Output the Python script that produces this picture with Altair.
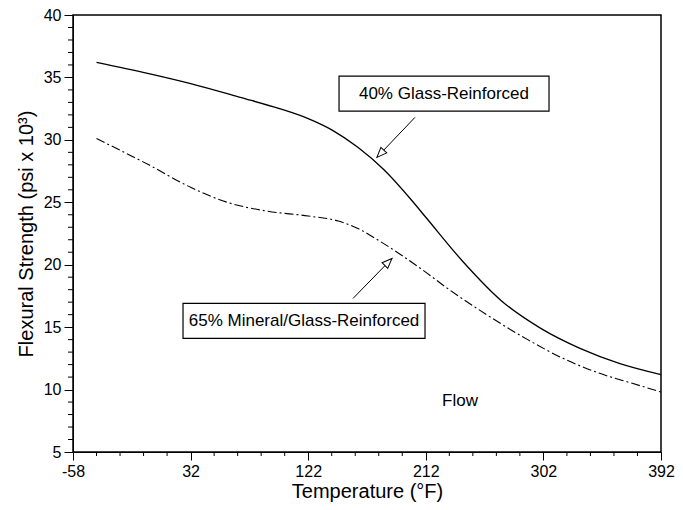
import altair as alt
import pandas as pd

# ---- data ----
glass_temp = [-40, 0, 32, 70, 100, 122, 140, 160, 180, 200, 212, 240, 270, 300, 330, 360, 392]
glass_val = [36.2, 35.3, 34.5, 33.4, 32.5, 31.7, 30.8, 29.4, 27.6, 25.3, 23.8, 20.3, 17.1, 14.9, 13.3, 12.1, 11.2]

mineral_temp = [-40, 0, 32, 60, 90, 122, 145, 160, 175, 190, 208, 230, 260, 290, 317, 345, 370, 392]
mineral_val = [30.1, 28.0, 26.2, 25.0, 24.3, 23.9, 23.5, 22.9, 22.0, 21.0, 19.7, 18.0, 15.9, 14.0, 12.5, 11.3, 10.5, 9.8]

x_major = [-58, 32, 122, 212, 302, 392]
y_major = [5, 10, 15, 20, 25, 30, 35, 40]
x_minor = [v for v in range(-58, 393, 18) if v not in x_major]
y_minor = [v for v in range(5, 41) if v % 5 != 0]

box_label = ["40% Glass-Reinforced", "65% Mineral/Glass-Reinforced"]
box_x1 = [145.6, 26.2]
box_x2 = [306.3, 211.4]
box_y1 = [35.1, 16.9]
box_y2 = [32.3, 14.1]
box_tx = [225.9, 118.8]
box_ty = [33.7, 15.5]

arrow_x1 = [203.7, 156.3]
arrow_y1 = [31.8, 17.3]
arrow_x2 = [174.6, 186.1]
arrow_y2 = [28.6, 20.5]
arrow_angle = [223.5, 45]

flow_label = ["Flow"]
flow_x = [238.2]
flow_y = [9.1]

FONT = "Liberation Sans"
W, H = 588, 437

xs = alt.Scale(domain=[-58, 392], nice=False, zero=False)
ys = alt.Scale(domain=[5, 40], nice=False, zero=False)

curves = pd.DataFrame({"t": glass_temp, "v": glass_val})
curves2 = pd.DataFrame({"t": mineral_temp, "v": mineral_val})

x_axis = alt.Axis(values=x_major, title="Temperature (°F)", tickSize=8, labelFontSize=16,
                  titleFontSize=20, titleFontWeight="normal", labelFont=FONT, titleFont=FONT,
                  grid=False, domainColor="black", tickColor="black", labelColor="black",
                  titleColor="black", labelPadding=3, titlePadding=2, labelFlush=False,
                  labelExpr="'' + datum.value")
y_axis = alt.Axis(values=y_major, title="Flexural Strength (psi x 10³)", tickSize=9, labelFontSize=16,
                  titleFontSize=20, titleFontWeight="normal", labelFont=FONT, titleFont=FONT,
                  grid=False, domainColor="black", tickColor="black", labelColor="black",
                  titleColor="black", labelPadding=3, titlePadding=7, labelFlush=False,
                  labelExpr="'' + datum.value")

glass = alt.Chart(curves).mark_line(color="black", strokeWidth=1.3, interpolate="monotone").encode(
    x=alt.X("t:Q", scale=xs, axis=x_axis),
    y=alt.Y("v:Q", scale=ys, axis=y_axis),
)
mineral = alt.Chart(curves2).mark_line(color="black", strokeWidth=1.1, interpolate="monotone",
                                       strokeDash=[9, 3, 2, 3]).encode(
    x=alt.X("t:Q", scale=xs),
    y=alt.Y("v:Q", scale=ys),
)

xminor = alt.Chart(pd.DataFrame({"t": x_minor})).mark_rule(color="black", strokeWidth=1).encode(
    x=alt.X("t:Q", scale=xs), y=alt.value(H), y2=alt.value(H + 4)
)
yminor = alt.Chart(pd.DataFrame({"v": y_minor})).mark_rule(color="black", strokeWidth=1).encode(
    y=alt.Y("v:Q", scale=ys), x=alt.value(0), x2=alt.value(-5)
)

boxes_df = pd.DataFrame({"label": box_label, "x1": box_x1, "x2": box_x2, "y1": box_y1,
                         "y2": box_y2, "tx": box_tx, "ty": box_ty})
boxes = alt.Chart(boxes_df).mark_rect(fill="white", stroke="black", strokeWidth=1.2).encode(
    x=alt.X("x1:Q", scale=xs), x2="x2:Q", y=alt.Y("y1:Q", scale=ys), y2="y2:Q"
)
box_text = alt.Chart(boxes_df).mark_text(font=FONT, fontSize=17, color="black",
                                         align="center", baseline="middle").encode(
    x=alt.X("tx:Q", scale=xs), y=alt.Y("ty:Q", scale=ys), text="label:N"
)

arrows_df = pd.DataFrame({"x1": arrow_x1, "y1": arrow_y1, "x2": arrow_x2, "y2": arrow_y2,
                          "a": arrow_angle})
arrow_lines = alt.Chart(arrows_df).mark_rule(color="black", strokeWidth=1).encode(
    x=alt.X("x1:Q", scale=xs), y=alt.Y("y1:Q", scale=ys), x2="x2:Q", y2="y2:Q"
)
arrow_heads = alt.Chart(arrows_df).mark_point(
    shape="M0,0 L-0.4,1 L0.4,1 Z", size=400, filled=True, fill="white",
    stroke="black", strokeWidth=1, opacity=1
).encode(
    x=alt.X("x2:Q", scale=xs), y=alt.Y("y2:Q", scale=ys), angle=alt.Angle("a:Q", scale=None)
)

flow = alt.Chart(pd.DataFrame({"label": flow_label, "x": flow_x, "y": flow_y})).mark_text(
    font=FONT, fontSize=17, color="black", align="center", baseline="middle"
).encode(x=alt.X("x:Q", scale=xs), y=alt.Y("y:Q", scale=ys), text="label:N")

chart = alt.layer(
    glass, mineral, xminor, yminor, arrow_lines, arrow_heads, boxes, box_text, flow
).properties(
    width=W, height=H,
    autosize=alt.AutoSizeParams(type="none"),
    padding={"left": 65, "top": 7, "right": 14, "bottom": 50},
    background="white",
).configure_view(stroke="black", strokeWidth=1.5)

chart.save("out.html", embed_options={"renderer": "svg", "actions": False})
